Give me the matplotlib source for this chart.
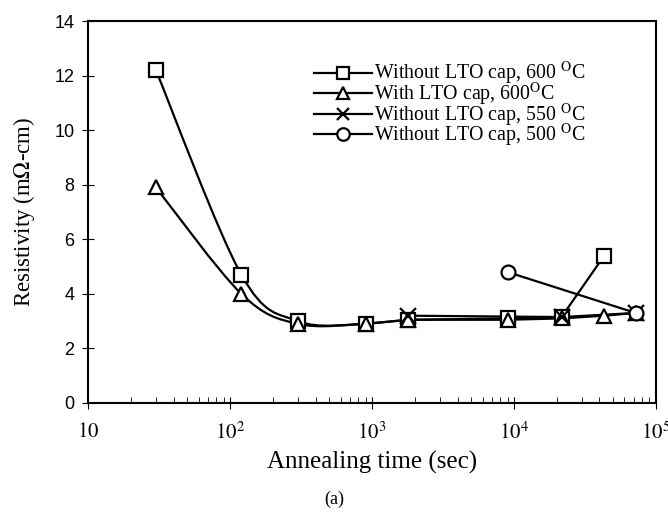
import numpy as np
import matplotlib
matplotlib.use("Agg")
import matplotlib.pyplot as plt
from matplotlib.path import Path
from matplotlib.patches import PathPatch
from matplotlib.lines import Line2D

plt.rcParams['mathtext.fontset'] = 'stix'

# data
t_sq = [30, 120, 300, 900, 1800, 9000, 21600, 43200]
r_sq = [12.2, 4.7, 3.0, 2.9, 3.05, 3.1, 3.15, 5.4]
t_tri = [30, 120, 300, 900, 1800, 9000, 21600, 43200, 72000]
r_tri = [7.9, 4.0, 2.9, 2.9, 3.05, 3.05, 3.1, 3.2, 3.3]
t_x = [1800, 21600, 72000]
r_x = [3.2, 3.15, 3.3]
t_o = [9000, 72000]
r_o = [4.8, 3.3]

labels = ["Without LTO cap, 600 $^{\\rm O}$C",
          "With LTO cap, 600$^{\\rm O}$C",
          "Without LTO cap, 550 $^{\\rm O}$C",
          "Without LTO cap, 500 $^{\\rm O}$C"]


def smooth_path(t, r, n_smooth=4):
    # bezier through the first n_smooth points (log t space), straight after
    lx = np.log10(t)
    ry = np.array(r, dtype=float)
    n = len(lx)
    verts = [(t[0], ry[0])]
    codes = [Path.MOVETO]
    for i in range(n - 1):
        if i < n_smooth - 1:
            p0 = (lx[max(i - 1, 0)], ry[max(i - 1, 0)])
            p1 = (lx[i], ry[i])
            p2 = (lx[i + 1], ry[i + 1])
            p3 = (lx[min(i + 2, n - 1)], ry[min(i + 2, n - 1)])
            c1 = (p1[0] + (p2[0] - p0[0]) / 6, p1[1] + (p2[1] - p0[1]) / 6)
            c2 = (p2[0] - (p3[0] - p1[0]) / 6, p2[1] - (p3[1] - p1[1]) / 6)
            for c in (c1, c2, p2):
                verts.append((10 ** c[0], c[1]))
            codes += [Path.CURVE4] * 3
        else:
            verts.append((t[i + 1], ry[i + 1]))
            codes.append(Path.LINETO)
    return Path(verts, codes)


fig = plt.figure(figsize=(6.68, 5.14), dpi=100)
ax = fig.add_axes([0.132, 0.216, 0.85, 0.743])
ax.set_xscale('log')
ax.set_xlim(10, 1e5)
ax.set_ylim(0, 14)

lw = 1.6
for t, r in [(t_sq, r_sq), (t_tri, r_tri)]:
    ax.add_patch(PathPatch(smooth_path(t, r), fill=False, lw=lw, color='black', zorder=2))
ax.plot(t_x, r_x, color='black', lw=lw, zorder=2)
ax.plot(t_o, r_o, color='black', lw=lw, zorder=2)

mk = dict(color='black', mfc='white', mec='black', mew=1.6, ls='none', zorder=3)
ax.plot(t_sq, r_sq, marker='s', ms=10, **mk)
ax.plot(t_tri, r_tri, marker='^', ms=10, **mk)
ax.plot(t_x, r_x, marker='x', ms=11, **mk)
ax.plot(t_o, r_o, marker='o', ms=10, **mk)

handles = [Line2D([], [], color='black', lw=lw, marker=m, ms=9, mfc='white', mec='black', mew=1.6)
           for m in ['s', '^', 'x', 'o']]
ax.legend(handles, labels, loc='upper left', bbox_to_anchor=(0.383, 0.918), frameon=False,
          prop={'family': 'Liberation Serif', 'size': 14.3}, handlelength=2.95,
          handletextpad=0.1, labelspacing=-0.33, borderaxespad=0)

ax.set_yticks(range(0, 15, 2))
ax.set_yticklabels([str(v) for v in range(0, 15, 2)], family='Liberation Sans', fontsize=13)
ax.set_xticks([10, 100, 1000, 1e4, 1e5])
ax.set_xticklabels(['$10$', '$10^2$', '$10^3$', '$10^4$', '$10^5$'], fontsize=15)
ax.tick_params(axis='both', which='major', direction='inout', length=8, width=0.8, pad=6)
ax.tick_params(axis='x', which='major', pad=9)
ax.tick_params(axis='x', which='minor', direction='in', length=4, width=0.6)
for s in ax.spines.values():
    s.set_linewidth(1.5)

ax.set_xlabel('Annealing time (sec)', family='Liberation Serif', fontsize=18, labelpad=6)
ax.set_ylabel('Resistivity (m$\\Omega$-cm)', family='Liberation Serif', fontsize=16.5, labelpad=12)
fig.text(0.5, 0.02, '(a)', ha='center', family='Liberation Serif', fontsize=13)

fig.savefig('out.png', dpi=100)
